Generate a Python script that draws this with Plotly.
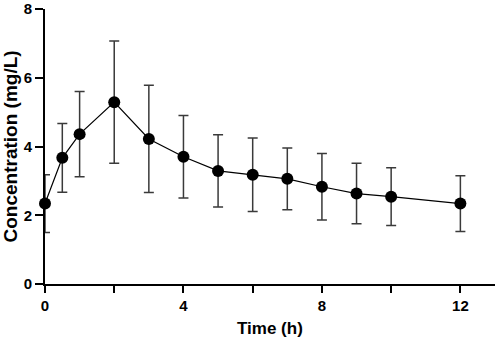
import plotly.graph_objects as go

time_h = [0, 0.5, 1, 2, 3, 4, 5, 6, 7, 8, 9, 10, 12]
conc_mean = [2.34, 3.67, 4.36, 5.29, 4.22, 3.70, 3.29, 3.18, 3.06, 2.83, 2.63, 2.54, 2.34]
conc_sd = [0.84, 1.00, 1.24, 1.78, 1.56, 1.20, 1.05, 1.07, 0.90, 0.97, 0.88, 0.84, 0.81]

x_tickvals = [0, 2, 4, 6, 8, 10, 12]
x_ticktext = ["0", "", "4", "", "8", "", "12"]
y_tickvals = [0, 2, 4, 6, 8]

x_title = "Time (h)"
y_title = "Concentration (mg/L)"

FONT = "Liberation Sans, Arial, sans-serif"

fig = go.Figure()
fig.add_trace(go.Scatter(
    x=time_h, y=conc_mean,
    mode="lines+markers",
    line=dict(color="black", width=1.2),
    marker=dict(color="black", size=12),
    error_y=dict(type="data", array=conc_sd, visible=True,
                 color="#3a3a3a", thickness=1.5, width=5),
    cliponaxis=False,
    showlegend=False,
))

fig.update_layout(
    width=498, height=344,
    margin=dict(l=45, r=3, t=9, b=60),
    plot_bgcolor="white", paper_bgcolor="white",
    font=dict(family=FONT, color="black"),
)
fig.update_xaxes(
    range=[0, 13], showgrid=False, zeroline=False, automargin=False,
    showline=True, linecolor="black", linewidth=2,
    ticks="outside", ticklen=7, tickwidth=2, tickcolor="black",
    tickvals=x_tickvals, ticktext=x_ticktext,
    tickfont=dict(size=15, weight="bold"),
    ticklabeloverflow="allow",
)
fig.update_yaxes(
    range=[0, 8], showgrid=False, zeroline=False, automargin=False,
    showline=True, linecolor="black", linewidth=2,
    ticks="outside", ticklen=8, tickwidth=2, tickcolor="black",
    tickvals=y_tickvals,
    tickfont=dict(size=15, weight="bold"),
    ticklabeloverflow="allow",
)

# axis titles placed as annotations for exact positioning
fig.add_annotation(
    text=x_title, xref="paper", yref="paper", x=0.5, y=0,
    xanchor="center", yanchor="middle", yshift=-44, showarrow=False,
    font=dict(size=17, weight="bold", family=FONT, color="black"),
)
fig.add_annotation(
    text=y_title, xref="paper", yref="paper", x=0, y=0.5,
    xanchor="center", yanchor="middle", xshift=-35, showarrow=False,
    textangle=-90,
    font=dict(size=19, weight="bold", family=FONT, color="black"),
)

fig.write_html("out.html",
               config={"displayModeBar": False},
               post_script="document.body.style.margin='0';document.body.style.overflow='hidden';")
